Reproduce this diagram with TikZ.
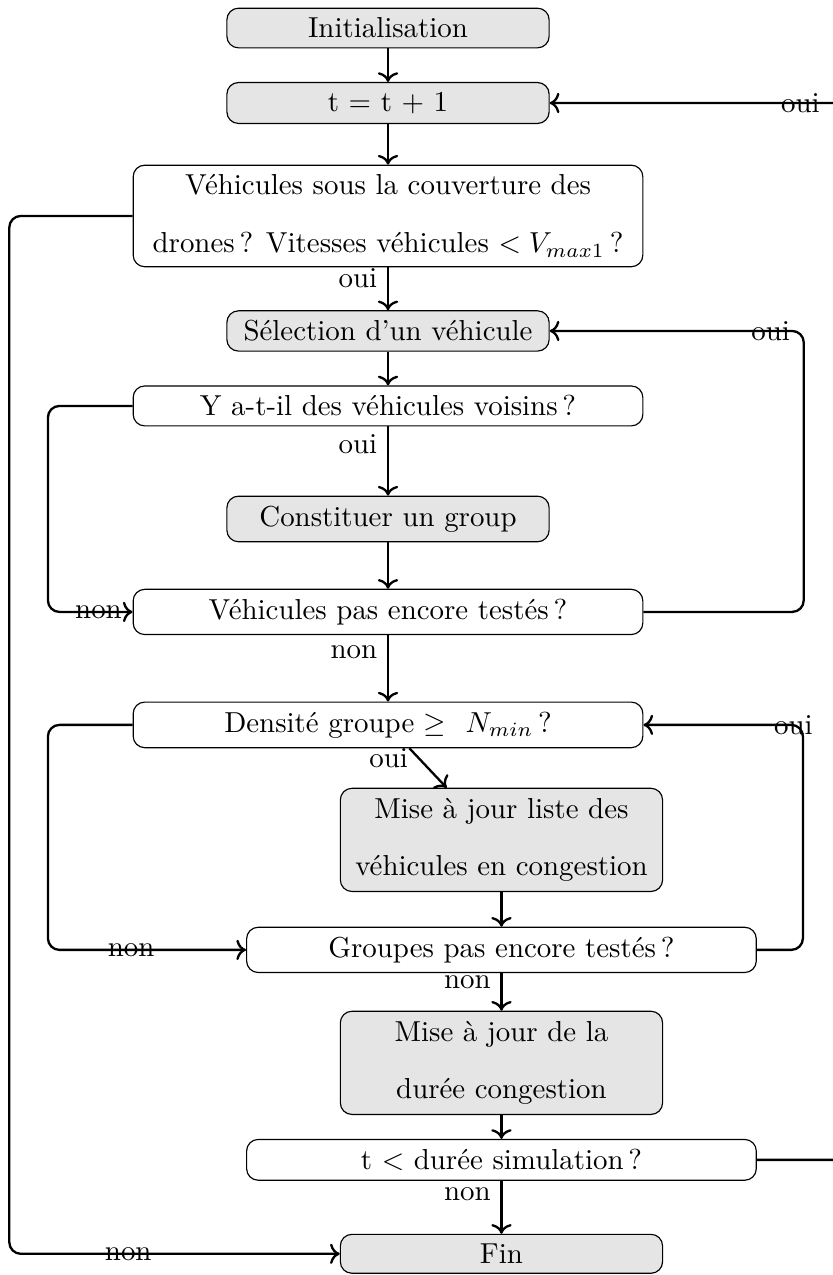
\documentclass[tikz,border=0pt]{standalone}
\usepackage{amsmath,amssymb}
\usepackage{fontspec}
\usepackage{xcolor}
\usepackage{tikz}
\usetikzlibrary{arrows.meta,positioning}

\begin{document}
\begin{tikzpicture}[
    proc/.style={draw, rounded corners, fill=gray!20,
                 minimum width=3.92cm,
                 align=center, font=\fontsize{10}{20}\selectfont},
    test/.style={proc, fill=white, minimum width=6.2cm},
    arr/.style={->, thick, rounded corners}
]
\useasboundingbox (0,0) rectangle (10.13,-15.51);

\node[proc] (init) at (4.72,-0.341) {Initialisation};
\node[proc] (tinc) at (4.72,-1.253) {t $=$ t $+$ 1};
\node[test] (couv) at (4.72,-2.627) {Véhicules sous la couverture des\\drones\,? Vitesses véhicules $< V_{max1}$\,?};
\node[proc] (sel)  at (4.72,-4.026) {Sélection d’un véhicule};
\node[test] (vois) at (4.72,-4.938) {Y a-t-il des véhicules voisins\,?};
\node[proc] (grp)  at (4.72,-6.313) {Constituer un group};
\node[test] (rest) at (4.72,-7.444) {Véhicules pas encore testés\,?};
\node[test] (dens) at (4.72,-8.818) {Densité groupe $\geq$\ \ $N_{min}$\,?};
\node[proc] (maj1) at (6.10,-10.217) {Mise à jour liste des\\véhicules en congestion};
\node[test] (grps) at (6.10,-11.555) {Groupes pas encore testés\,?};
\node[proc] (maj2) at (6.10,-12.929) {Mise à jour de la\\durée congestion};
\node[test] (tsim) at (6.10,-14.109) {t $<$ durée simulation\,?};
\node[proc] (fin)  at (6.10,-15.252) {Fin};

\draw[arr] (init) -- (tinc);
\draw[arr] (tinc) -- (couv);
\draw[arr] (couv) -- node[near start, left] {oui} (sel);
\draw[arr] (sel) -- (vois);
\draw[arr] (vois) -- node[near start, left] {oui} (grp);
\draw[arr] (grp) -- (rest);
\draw[arr] (rest) -- node[near start, left] {non} (dens);
\draw[arr] ([xshift=0.26cm]dens.south) -- node[near start, left] {oui} ([xshift=1.30cm]maj1.north west);
\draw[arr] (maj1) -- (grps);
\draw[arr] (grps) -- node[near start, left] {non} (maj2);
\draw[arr] (maj2) -- (tsim);
\draw[arr] (tsim) -- node[near start, left] {non} (fin);

% boucles
\draw[arr] (couv.west) -- ++(-1.50,0) |- node[pos=0.68] {non} (fin.west);
\draw[arr] (vois.west) -- ++(-1.03,0) |- (rest.west) node[left] {non};
\draw[arr] (rest.east) -- ++(1.95,0) |- node[pos=0.565] {oui} (sel.east);
\draw[arr] (dens.west) -- ++(-1.03,0) |- node[pos=0.71] {non} (grps.west);
\draw[arr] (grps.east) -- ++(0.56,0) |- node[pos=0.53] {oui} (dens.east);
\draw[arr] (tsim.east) -- ++(1.11,0) |- node[pos=0.58] {oui} (tinc.east);
\end{tikzpicture}
\end{document}
